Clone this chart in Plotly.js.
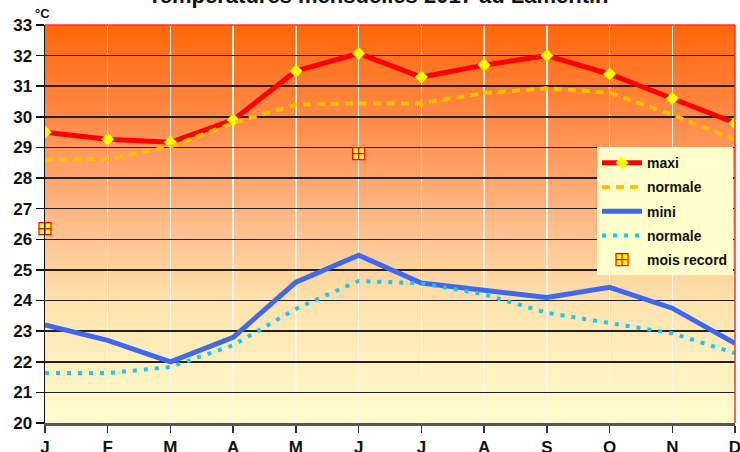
<!DOCTYPE html>
<html>
<head>
<meta charset="utf-8">
<script src="https://cdn.plot.ly/plotly-3.0.1.min.js"></script>
<style>html,body{margin:0;padding:0;background:#fff;}#chart{width:740px;height:452px;}</style>
</head>
<body>
<div id="chart"></div>
<script>
const months = ['J','F','M','A','M','J','J','A','S','O','N','D'];
const maxi = [29.5, 29.27, 29.17, 29.9, 31.5, 32.07, 31.3, 31.69, 32.0, 31.4, 30.6, 29.8];
const normaleMax = [28.6, 28.63, 29.03, 29.8, 30.4, 30.44, 30.44, 30.78, 30.93, 30.79, 30.07, 29.25];
const mini = [23.2, 22.7, 22.0, 22.8, 24.6, 25.48, 24.57, 24.35, 24.1, 24.43, 23.75, 22.6];
const normaleMin = [21.63, 21.63, 21.83, 22.54, 23.73, 24.64, 24.56, 24.2, 23.6, 23.25, 22.93, 22.28];
const recordMonths = [0, 5];
const recordValues = [26.35, 28.8];
const yTicks = [20,21,22,23,24,25,26,27,28,29,30,31,32,33];

const xIdx = months.map((m, i) => i);
const narrow = '"Liberation Sans Narrow", "Arial Narrow", "Liberation Sans", Arial, sans-serif';
const bold = '"Liberation Sans", Arial, sans-serif';

const traces = [
  {x: xIdx, y: maxi, name: 'maxi', legendgroup: 'g1', mode: 'lines+markers', line: {color: '#FF0000', width: 5},
   marker: {symbol: 'diamond', size: 10, color: '#FFFF00'}},
  {x: xIdx, y: normaleMax, name: 'normale', legendgroup: 'g2', mode: 'lines', line: {color: '#FFC000', width: 4, dash: '8px,6px'}},
  {x: xIdx, y: mini, name: 'mini', legendgroup: 'g3', mode: 'lines', line: {color: '#3F68F0', width: 5}},
  {x: xIdx, y: normaleMin, name: 'normale', legendgroup: 'g4', mode: 'lines', line: {color: '#1AC6F2', width: 4, dash: '4px,7px'}},
  {x: recordMonths, y: recordValues, name: 'mois record', legendgroup: 'g5', mode: 'markers',
   marker: {symbol: 'square-cross', size: 12, color: '#FFFF00', line: {color: '#FF0000', width: 1.2}}, cliponaxis: false}
];

const grad = '<svg xmlns="http://www.w3.org/2000/svg" width="100" height="100" preserveAspectRatio="none">' +
  '<defs><linearGradient id="g" x1="0" y1="0" x2="0" y2="1">' +
  '<stop offset="0" stop-color="#FF6608"/>' +
  '<stop offset="0.26" stop-color="#FF8E4E"/>' +
  '<stop offset="0.52" stop-color="#FFC18E"/>' +
  '<stop offset="0.7" stop-color="#FEE3AE"/>' +
  '<stop offset="1" stop-color="#FFFDCC"/>' +
  '</linearGradient></defs><rect width="100" height="100" fill="url(#g)"/></svg>';

const layout = {
  width: 740, height: 452,
  margin: {l: 45, r: 5, t: 25, b: 29, pad: 0},
  paper_bgcolor: '#FFFFFF',
  plot_bgcolor: 'rgba(0,0,0,0)',
  showlegend: true,
  legend: {x: 0.8, y: 0.693, xanchor: 'left', yanchor: 'top', bgcolor: '#FFFFCC', borderwidth: 0,
           itemwidth: 40, font: {family: bold, size: 14, color: '#111', weight: 'bold'}, tracegroupgap: 3},
  xaxis: {range: [0, 11], tickmode: 'array', tickvals: xIdx, ticktext: months,
          showgrid: true, gridcolor: '#FFF4E8', gridwidth: 1.5, zeroline: false,
          showline: true, linecolor: '#555555', linewidth: 2.5, ticklabeloverflow: 'allow',
          ticks: 'outside', ticklen: 7, tickcolor: '#333', tickwidth: 1.5,
          tickfont: {family: narrow, size: 17, color: '#111', weight: 'bold'}},
  yaxis: {range: [20, 33], tickmode: 'array', tickvals: yTicks, ticktext: yTicks.map(String),
          showgrid: true, gridcolor: '#222222', gridwidth: 1.5, zeroline: false,
          showline: true, linecolor: '#111', linewidth: 1.5, ticklabeloverflow: 'allow',
          ticks: 'outside', ticklen: 8, tickcolor: '#111', tickwidth: 1.5,
          tickfont: {family: narrow, size: 17, color: '#111', weight: 'bold'}},
  images: [{source: 'data:image/svg+xml;charset=utf-8,' + encodeURIComponent(grad),
            xref: 'paper', yref: 'paper', x: 0, y: 1, sizex: 1, sizey: 1,
            sizing: 'stretch', layer: 'below', xanchor: 'left', yanchor: 'top'}],
  shapes: [
    {type: 'line', xref: 'paper', yref: 'paper', x0: 1, x1: 1, y0: 0, y1: 1, line: {color: '#FF3030', width: 1.5}},
    {type: 'line', xref: 'paper', yref: 'paper', x0: 0, x1: 1, y0: 1, y1: 1, line: {color: '#FF3030', width: 1.5}}
  ],
  annotations: [
    {text: 'Températures mensuelles 2017 au Lamentin', xref: 'paper', yref: 'paper', x: 0.483, y: 1.075,
     xanchor: 'center', yanchor: 'middle', showarrow: false,
     font: {family: bold, size: 22, color: '#111', weight: 'bold'}},
    {text: '°C', xref: 'paper', yref: 'paper', x: -0.0174, y: 1.029, xanchor: 'left', yanchor: 'middle',
     showarrow: false, font: {family: narrow, size: 13, color: '#111', weight: 'bold'}}
  ]
};

Plotly.newPlot('chart', traces, layout, {displayModeBar: false, staticPlot: true});
</script>
</body>
</html>
